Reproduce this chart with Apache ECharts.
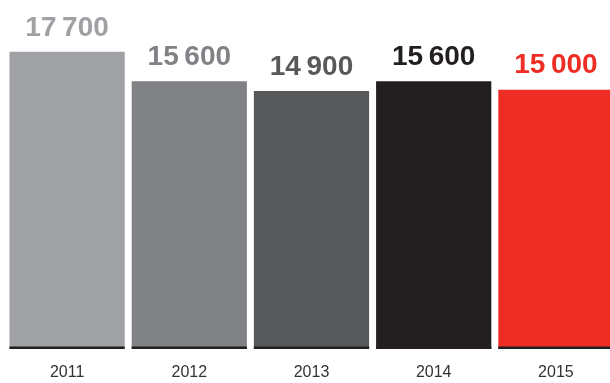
<!DOCTYPE html>
<html>
<head>
<meta charset="utf-8">
<script src="https://cdn.jsdelivr.net/npm/echarts@6/dist/echarts.min.js"></script>
<style>
html,body{margin:0;padding:0;background:#fff;}
#chart{width:610px;height:383px;}
</style>
</head>
<body>
<div id="chart"></div>
<script>
const categories = ['2011', '2012', '2013', '2014', '2015'];
const values = [17700, 15600, 14900, 15600, 15000];
const barColors = ['#a0a1a5', '#808285', '#58595b', '#231f20', '#ee2e24'];
const Y_MIN = -3500;
const Y_MAX = 21400;

function fmt(v) {
  const s = String(v);
  return s.slice(0, s.length - 3) + '\u2009' + s.slice(s.length - 3);
}

const chart = echarts.init(document.getElementById('chart'), null, {renderer: 'canvas'});
chart.setOption({
  animation: false,
  backgroundColor: '#ffffff',
  grid: {left: 6, top: 0, width: 611, height: 349, containLabel: false, outerBoundsMode: 'none'},
  xAxis: {
    type: 'category',
    data: categories,
    axisLine: {show: false},
    axisTick: {show: false},
    axisLabel: {
      color: '#333333',
      fontSize: 16,
      fontFamily: '"Liberation Sans", Arial, sans-serif',
      margin: 16
    }
  },
  yAxis: {
    type: 'value',
    min: Y_MIN,
    max: Y_MAX,
    show: false,
    splitLine: {show: false}
  },
  series: [{
    type: 'custom',
    clip: false,
    data: values.map((v, i) => [i, v]),
    renderItem: function (params, api) {
      const i = api.value(0);
      const v = api.value(1);
      const top = api.coord([i, v]);
      const base = api.coord([i, Y_MIN]);
      const bw = api.size([1, 0])[0] * 0.943;
      const x0 = top[0] - bw / 2;
      const color = barColors[params.dataIndex];
      return {
        type: 'group',
        children: [
          {type: 'rect', shape: {x: x0, y: top[1], width: bw, height: base[1] - top[1]}, style: {fill: color}},
          {type: 'rect', shape: {x: x0, y: base[1] - 2.5, width: bw, height: 2.5}, style: {fill: '#231f20'}},
          {type: 'text', x: top[0], y: top[1] - 24,
           style: {text: fmt(v), fill: color, font: 'bold 28px "Liberation Sans", Arial, sans-serif',
                   textAlign: 'center', textVerticalAlign: 'middle'}}
        ]
      };
    }
  }]
});
</script>
</body>
</html>
